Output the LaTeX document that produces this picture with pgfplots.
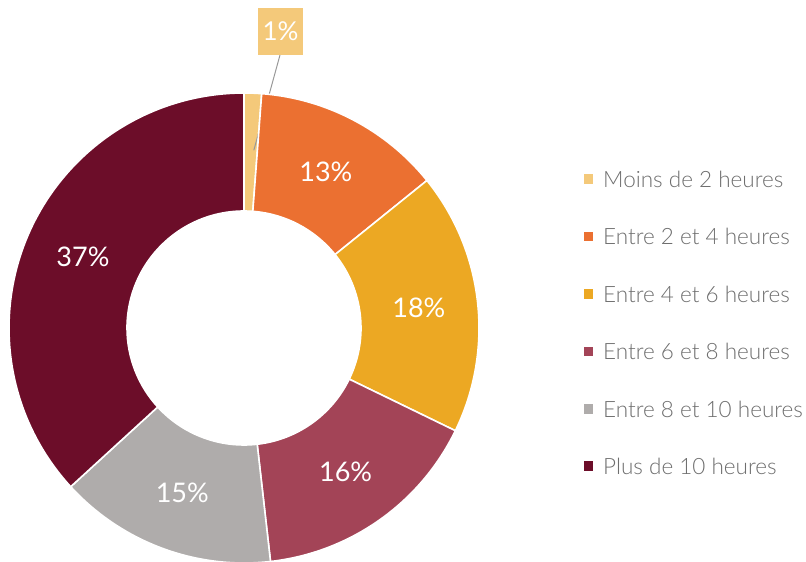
\documentclass[border=0pt]{standalone}
\usepackage{pgfplots}
\pgfplotsset{compat=1.18}
\usepackage{pgfplotstable}
\usetikzlibrary{calc}
\usepackage{fontspec}
\setmainfont{Lato}
\newfontfamily\thin{Lato Light}
\definecolor{cLess2}{HTML}{F4C97A}
\definecolor{cTwoFour}{HTML}{EB7031}
\definecolor{cFourSix}{HTML}{ECA823}
\definecolor{cSixEight}{HTML}{A34457}
\definecolor{cEightTen}{HTML}{AFACAB}
\definecolor{cMore10}{HTML}{6C0D29}
\definecolor{legtext}{HTML}{6E6E6E}

% share of respondents per duration (labels are rounded)
\pgfplotstableread[col sep=comma]{
share,colour,name
1.2,cLess2,Moins de 2 heures
13,cTwoFour,Entre 2 et 4 heures
18,cFourSix,Entre 4 et 6 heures
16,cSixEight,Entre 6 et 8 heures
15,cEightTen,Entre 8 et 10 heures
36.8,cMore10,Plus de 10 heures
}\hours

\begin{document}
\begin{tikzpicture}
\begin{axis}[
  scale only axis, width=806bp, height=562bp,
  xmin=0, xmax=806, ymin=0, ymax=562,
  hide axis, clip=false
]
  \pgfplotstablegetrowsof{\hours}
  \pgfmathtruncatemacro\nrows{\pgfplotsretval-1}
  \def\cum{0}
  \pgfplotsforeachungrouped \i in {0,...,\nrows}{%
    \pgfplotstablegetelem{\i}{share}\of\hours \let\v\pgfplotsretval
    \pgfplotstablegetelem{\i}{colour}\of\hours \let\c\pgfplotsretval
    \pgfplotstablegetelem{\i}{name}\of\hours \let\n\pgfplotsretval
    \pgfmathtruncatemacro\r{round(\v)}%
    \pgfmathsetmacro\a{90-3.6*\cum}%
    \pgfmathsetmacro\b{90-3.6*(\cum+\v)}%
    \pgfmathsetmacro\m{(\a+\b)/2}%
    \pgfmathsetmacro\ly{378-57.4*\i}%
    \edef\cmd{%
      \noexpand\fill[\c, draw=white, line width=1.6bp]
        ($(axis cs:244,234)+(\a:235bp)$) arc[start angle=\a, end angle=\b, radius=235bp]
        -- ($(axis cs:244,234)+(\b:117bp)$) arc[start angle=\b, end angle=\a, radius=117bp] -- cycle;
      \noexpand\fill[\c] (axis cs:583.5,\ly) rectangle ++(9.5bp,9.5bp);
      \noexpand\node[anchor=west, text=legtext, font=\noexpand\thin\noexpand\fontsize{22.5bp}{26bp}\noexpand\selectfont, inner sep=0]
        at (axis cs:603,\ly+4.5) {\n};
    }\cmd
    \ifdim\v pt<5pt
      \edef\cmd{%
        \noexpand\draw[gray!80, line width=1bp] ($(axis cs:244,234)+(\m-1:178bp)$) -- (axis cs:280,507);
        \noexpand\node[fill=\c, text=white, minimum width=45bp, minimum height=47bp, inner sep=0,
          font=\noexpand\fontsize{26bp}{30bp}\noexpand\selectfont] at (axis cs:280.5,530.5) {\r\%};
      }\cmd
    \else
      \edef\cmd{%
        \noexpand\node[text=white, inner sep=0, font=\noexpand\fontsize{27bp}{30bp}\noexpand\selectfont]
          at ($(axis cs:244,234)+(\m:176bp)$) {\r\%};
      }\cmd
    \fi
    \pgfmathsetmacro\cum{\cum+\v}%
  }
\end{axis}
\pgfresetboundingbox
\path[use as bounding box] (current axis.south west) rectangle (current axis.north east);
\end{tikzpicture}
\end{document}
